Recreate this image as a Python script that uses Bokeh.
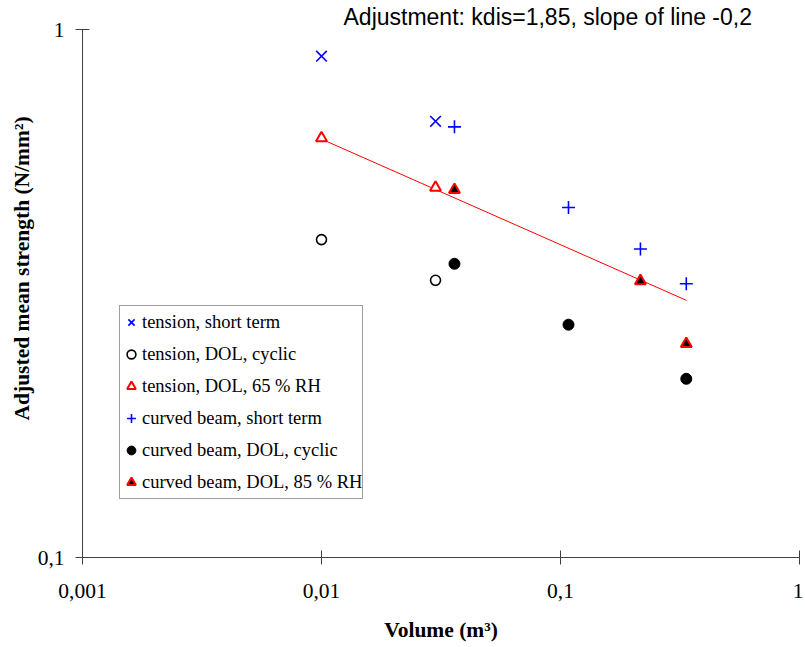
from bokeh.plotting import figure
from bokeh.models import FixedTicker, Legend, LegendItem, Title
from bokeh.embed import file_html
from bokeh.resources import INLINE

# ---- data ----
tension_short_x = [0.01, 0.030]
tension_short_y = [0.89, 0.67]
tension_cyclic_x = [0.01, 0.030]
tension_cyclic_y = [0.40, 0.335]
tension_rh65_x = [0.01, 0.030]
tension_rh65_y = [0.623, 0.502]
curved_short_x = [0.036, 0.108, 0.216, 0.336]
curved_short_y = [0.654, 0.46, 0.384, 0.33]
curved_cyclic_x = [0.036, 0.108, 0.336]
curved_cyclic_y = [0.36, 0.276, 0.218]
curved_rh85_x = [0.036, 0.216, 0.336]
curved_rh85_y = [0.497, 0.334, 0.254]
fit_x = [0.01, 0.336]
fit_y = [0.62, 0.307]

x_ticks = [0.001, 0.01, 0.1, 1]
x_tick_labels = ["0,001", "0,01", "0,1", "1"]
y_ticks = [0.1, 1]
y_tick_labels = ["0,1", "1"]

title_text = "Adjustment: kdis=1,85,  slope of line -0,2"
x_label = "Volume (m³)"
y_label = "Adjusted mean strength (N/mm²)"

SERIF = "Liberation Serif"
SANS = "Liberation Sans"

p = figure(width=803, height=645, x_axis_type="log", y_axis_type="log",
           x_range=(0.001, 1), y_range=(0.1, 1),
           output_backend="svg", toolbar_location=None,
           min_border_left=82, min_border_right=4,
           min_border_top=29, min_border_bottom=88)
p.outline_line_color = None
p.xgrid.visible = False
p.ygrid.visible = False
p.background_fill_color = "white"
p.border_fill_color = "white"

for ax, ticks, labels in ((p.xaxis[0], x_ticks, x_tick_labels), (p.yaxis[0], y_ticks, y_tick_labels)):
    ax.ticker = FixedTicker(ticks=ticks, minor_ticks=[])
    ax.major_label_overrides = {t: l for t, l in zip(ticks, labels)}
    ax.axis_line_color = "#404040"
    ax.major_tick_line_color = "#404040"
    ax.major_tick_in = 7
    ax.major_tick_out = 7
    ax.minor_tick_line_color = None
    ax.major_label_text_font = SERIF
    ax.major_label_text_font_size = "21.5px"
    ax.major_label_text_color = "black"

p.xaxis.major_label_standoff = 19
p.yaxis.major_label_standoff = 11
p.xaxis.axis_label = x_label
p.xaxis.axis_label_text_font = SERIF
p.xaxis.axis_label_text_font_style = "bold"
p.xaxis.axis_label_text_font_size = "21.5px"
p.xaxis.axis_label_text_color = "black"
p.xaxis.axis_label_standoff = 17

# title
p.title.text = title_text
p.title.align = "left"
p.title.offset = 261
p.title.standoff = 0
p.title.text_font = SANS
p.title.text_font_style = "normal"
p.title.text_font_size = "23px"
p.title.text_color = "black"

# y axis label as a left-side title (positioned like the reference)
p.add_layout(Title(text=y_label, align="left", offset=137, standoff=0,
                   vertical_align="middle",
                   text_font=SERIF, text_font_style="bold",
                   text_font_size="21.5px", text_color="black"), "left")

# fitted line
p.line(fit_x, fit_y, line_color="red", line_width=1)

r1 = p.scatter(tension_short_x, tension_short_y, marker="x", size=15,
               line_color="blue", line_width=1.6)
r2 = p.scatter(tension_cyclic_x, tension_cyclic_y, marker="circle", size=10,
               line_color="black", fill_color="white", line_width=1.6)
r3 = p.scatter(tension_rh65_x, tension_rh65_y, marker="triangle", size=11,
               line_color="red", fill_color="white", line_width=2)
r4 = p.scatter(curved_short_x, curved_short_y, marker="cross", size=13,
               line_color="blue", line_width=1.6)
r5 = p.scatter(curved_cyclic_x, curved_cyclic_y, marker="circle", size=11,
               line_color="black", fill_color="black", line_width=1)
r6 = p.scatter(curved_rh85_x, curved_rh85_y, marker="triangle", size=11,
               line_color="red", fill_color="black", line_width=2)

legend = Legend(items=[
    LegendItem(label="tension, short term", renderers=[r1]),
    LegendItem(label="tension, DOL, cyclic", renderers=[r2]),
    LegendItem(label="tension, DOL, 65 % RH", renderers=[r3]),
    LegendItem(label="curved beam, short term", renderers=[r4]),
    LegendItem(label="curved beam, DOL, cyclic", renderers=[r5]),
    LegendItem(label="curved beam, DOL, 85 % RH", renderers=[r6]),
], location=(37, 58))
legend.label_text_font = SERIF
legend.label_text_font_size = "18.5px"
legend.label_text_color = "black"
legend.glyph_width = 22
legend.glyph_height = 32
legend.label_height = 32
legend.spacing = 0
legend.padding = 0
legend.margin = 0
legend.label_standoff = 0
legend.border_line_color = "#404040"
legend.border_line_width = 1
legend.background_fill_alpha = 1
p.add_layout(legend, "center")

open("out.html", "w").write(file_html(p, INLINE))
